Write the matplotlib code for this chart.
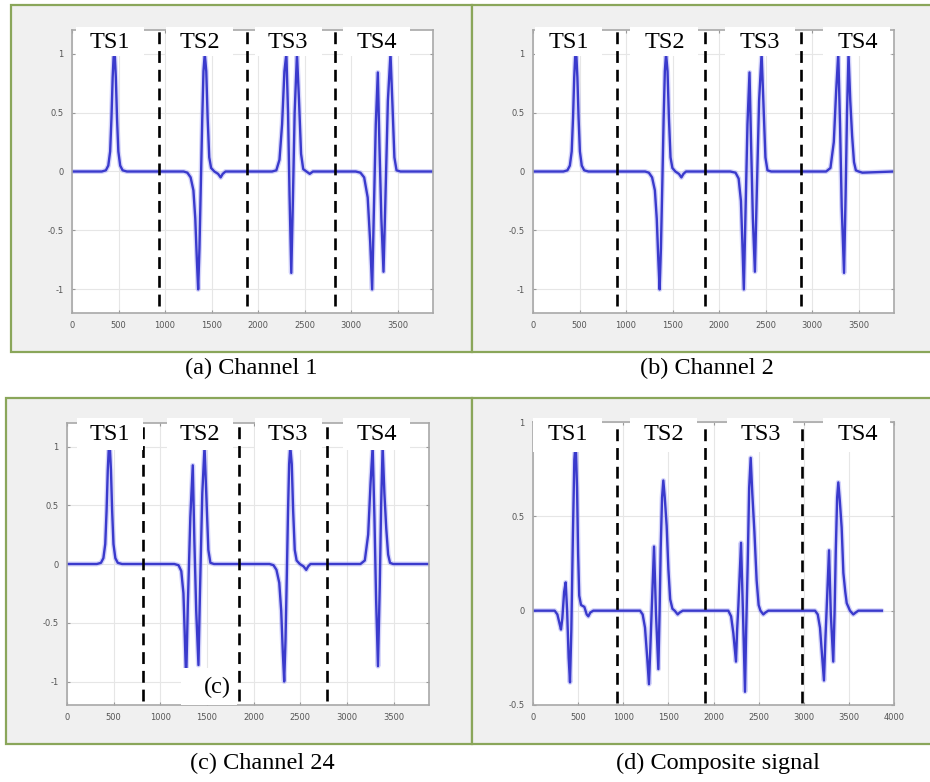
import matplotlib
matplotlib.use('Agg')
import matplotlib.pyplot as plt
from matplotlib.patches import Rectangle

W, H = 930, 782

# channel 1
ch1_x = [0, 320, 364, 390, 410, 424, 437, 447, 454, 461, 471, 484, 498, 518, 544, 590,
         1200, 1240, 1275, 1305, 1325, 1342, 1356, 1370, 1385, 1400, 1413, 1427, 1443, 1458, 1475, 1495, 1530, 1570, 1598, 1620, 1650,
         2150, 2196, 2230, 2258, 2283, 2304, 2322, 2338, 2357, 2374, 2393, 2418, 2440, 2462, 2485, 2520, 2555, 2590,
         3050, 3100, 3140, 3178, 3205, 3226, 3244, 3265, 3287, 3305, 3325, 3348, 3368, 3395, 3423, 3445, 3465, 3488, 3530, 3880]
ch1_y = [0, 0, 0.01, 0.05, 0.17, 0.45, 0.8, 0.97, 1.0, 0.97, 0.8, 0.45, 0.17, 0.05, 0.01, 0,
         0, -0.01, -0.05, -0.16, -0.4, -0.75, -1.0, -0.65, -0.1, 0.45, 0.85, 1.0, 0.85, 0.45, 0.12, 0.03, 0, -0.02, -0.05, -0.02, 0,
         0, 0.01, 0.1, 0.4, 0.85, 1.0, 0.5, -0.2, -0.86, -0.25, 0.5, 1.0, 0.6, 0.15, 0.02, 0, -0.02, 0,
         0, -0.01, -0.05, -0.22, -0.6, -1.0, -0.35, 0.4, 0.84, 0.2, -0.4, -0.85, -0.25, 0.6, 1.0, 0.55, 0.12, 0.01, 0, 0]

# channel 2
ch2_x = [0, 326, 370, 396, 416, 430, 443, 453, 460, 467, 477, 490, 504, 524, 550, 596,
         1205, 1245, 1280, 1310, 1330, 1347, 1361, 1375, 1390, 1404, 1417, 1430, 1446, 1461, 1478, 1498, 1530, 1568, 1595, 1617, 1645,
         2120, 2177, 2210, 2235, 2250, 2266, 2284, 2305, 2327, 2345, 2363, 2385, 2403, 2430, 2457, 2478, 2498, 2520, 2560,
         3150, 3197, 3233, 3258, 3281, 3300, 3318, 3343, 3360, 3375, 3391, 3410, 3430, 3450, 3470, 3500, 3540, 3880]
ch2_y = [0, 0, 0.01, 0.05, 0.17, 0.45, 0.8, 0.97, 1.0, 0.97, 0.8, 0.45, 0.17, 0.05, 0.01, 0,
         0, -0.01, -0.05, -0.16, -0.4, -0.75, -1.0, -0.65, -0.1, 0.45, 0.85, 1.0, 0.85, 0.45, 0.12, 0.03, 0, -0.02, -0.05, -0.02, 0,
         0, -0.01, -0.06, -0.25, -0.6, -1.0, -0.35, 0.4, 0.84, 0.2, -0.4, -0.85, -0.25, 0.6, 1.0, 0.55, 0.12, 0.01, 0,
         0, 0.03, 0.25, 0.68, 1.0, 0.4, -0.3, -0.86, -0.2, 0.5, 1.0, 0.6, 0.3, 0.08, 0.01, 0, -0.01, 0]

# channel 24
ch24_x = [0, 320, 364, 390, 410, 424, 437, 447, 454, 461, 471, 484, 498, 518, 544, 590,
          1150, 1195, 1225, 1248, 1262, 1277, 1295, 1322, 1348, 1365, 1385, 1409, 1425, 1450, 1474, 1495, 1515, 1537, 1575,
          2170, 2213, 2245, 2275, 2296, 2313, 2328, 2342, 2356, 2369, 2381, 2393, 2409, 2424, 2441, 2461, 2495, 2535, 2564, 2585, 2610,
          3145, 3192, 3228, 3253, 3276, 3295, 3313, 3333, 3352, 3367, 3383, 3402, 3422, 3442, 3462, 3495, 3880]
ch24_y = [0, 0, 0.01, 0.05, 0.17, 0.45, 0.8, 0.97, 1.0, 0.97, 0.8, 0.45, 0.17, 0.05, 0.01, 0,
          0, -0.01, -0.06, -0.25, -0.6, -1.0, -0.35, 0.4, 0.84, 0.2, -0.4, -0.86, -0.25, 0.6, 1.0, 0.55, 0.12, 0.01, 0,
          0, -0.01, -0.05, -0.16, -0.4, -0.75, -1.0, -0.65, -0.1, 0.45, 0.85, 1.0, 0.85, 0.45, 0.12, 0.03, 0, -0.02, -0.05, -0.02, 0,
          0, 0.03, 0.25, 0.68, 1.0, 0.4, -0.3, -0.87, -0.2, 0.5, 1.0, 0.6, 0.3, 0.08, 0.01, 0, 0]

# composite signal
comp_x = [0, 240, 270, 295, 310, 325, 345, 362, 378, 395, 410, 425, 442, 458, 473, 488, 500, 512, 532, 569, 595, 613, 635, 668,
          1186, 1215, 1241, 1267, 1285, 1300, 1315, 1341, 1363, 1389, 1403, 1415, 1430, 1444, 1460, 1481, 1500, 1520, 1545, 1570, 1603, 1625, 1660,
          2164, 2195, 2220, 2249, 2262, 2275, 2305, 2327, 2349, 2362, 2379, 2395, 2412, 2430, 2453, 2478, 2500, 2520, 2552, 2575, 2607,
          3125, 3155, 3180, 3205, 3224, 3240, 3253, 3280, 3300, 3327, 3342, 3355, 3370, 3383, 3400, 3420, 3439, 3460, 3476, 3512, 3549, 3575, 3605, 3865]
comp_y = [0, 0, -0.02, -0.07, -0.10, -0.04, 0.1, 0.15, 0.0, -0.25, -0.38, -0.1, 0.4, 0.8, 0.9, 0.65, 0.3, 0.08, 0.03, 0.02, -0.02, -0.03, -0.01, 0,
          0, -0.02, -0.09, -0.26, -0.39, -0.2, 0.0, 0.34, -0.02, -0.31, 0.0, 0.33, 0.6, 0.69, 0.6, 0.45, 0.22, 0.06, 0.01, 0, -0.02, -0.01, 0,
          0, -0.03, -0.12, -0.27, -0.1, 0.02, 0.36, -0.02, -0.43, -0.1, 0.25, 0.65, 0.81, 0.62, 0.42, 0.16, 0.03, 0.0, -0.02, -0.01, 0,
          0, -0.02, -0.09, -0.25, -0.37, -0.15, 0.0, 0.32, -0.02, -0.27, 0.0, 0.32, 0.6, 0.68, 0.58, 0.44, 0.2, 0.1, 0.04, 0.0, -0.02, -0.01, 0, 0]

# boundaries between time slots
dash_a = [933, 1878, 2822]
dash_b = [904, 1851, 2885]
dash_c = [815, 1845, 2790]
dash_d = [931, 1906, 2981]

slot_labels = ['TS1', 'TS2', 'TS3', 'TS4']
captions = ['(a) Channel 1', '(b) Channel 2', '(c) Channel 24', '(d) Composite signal']


def fx(x):
    return x / W


def fy(y):
    return 1 - y / H


def px_rect(x0, y0, x1, y1):
    return [fx(x0), fy(y1), (x1 - x0) / W, (y1 - y0) / H]


fig = plt.figure(figsize=(W / 100, H / 100), dpi=100)
fig.patch.set_facecolor('white')

serif = ['Liberation Serif', 'DejaVu Serif']
green = '#8aa65a'

# gray frames around each panel
for (x0, y0, x1, y1) in [(11, 5, 472, 352), (472, 5, 936, 352), (6, 398, 472, 744), (472, 398, 936, 744)]:
    fig.patches.append(Rectangle((fx(x0), fy(y1)), (x1 - x0) / W, (y1 - y0) / H, transform=fig.transFigure,
                                 facecolor='#f0f0f0', edgecolor=green, lw=1.6, zorder=-5))

panels = [
    dict(rect=(72, 30, 433, 313), x=ch1_x, y=ch1_y, dash=dash_a, xmax=3880, ylim=(-1.2, 1.2),
         yt=[-1, -0.5, 0, 0.5, 1], xt=range(0, 4000, 500), dash_y=(-1.14, 1.2),
         boxes=[(76, 144), (166, 233), (255, 322), (343, 410)], tx=[110, 200, 288, 377], by=(27, 56), ty=42),
    dict(rect=(533, 30, 894, 313), x=ch2_x, y=ch2_y, dash=dash_b, xmax=3880, ylim=(-1.2, 1.2),
         yt=[-1, -0.5, 0, 0.5, 1], xt=range(0, 4000, 500), dash_y=(-1.14, 1.2),
         boxes=[(535, 602), (630, 698), (725, 795), (823, 890)], tx=[569, 665, 760, 858], by=(27, 56), ty=42),
    dict(rect=(67, 423, 429, 705), x=ch24_x, y=ch24_y, dash=dash_c, xmax=3880, ylim=(-1.2, 1.2),
         yt=[-1, -0.5, 0, 0.5, 1], xt=range(0, 4000, 500), dash_y=(-1.17, 1.2),
         boxes=[(77, 143), (167, 233), (255, 322), (343, 410)], tx=[110, 200, 288, 377], by=(418, 450), ty=435),
    dict(rect=(533, 422, 894, 705), x=comp_x, y=comp_y, dash=dash_d, xmax=4000, ylim=(-0.5, 1.0),
         yt=[-0.5, 0, 0.5, 1], xt=range(0, 4500, 500), dash_y=(-0.49, 1.0),
         boxes=[(533, 602), (630, 697), (727, 793), (823, 890)], tx=[568, 664, 761, 858], by=(418, 452), ty=435),
]

for p in panels:
    x0, y0, x1, y1 = p['rect']
    ax = fig.add_axes(px_rect(x0, y0, x1, y1))
    ax.set_facecolor('white')
    # soft halo under the trace, then the trace itself
    ax.plot(p['x'], p['y'], color='#a0a0f4', lw=3.6, alpha=0.45, solid_joinstyle='round', solid_capstyle='round')
    ax.plot(p['x'], p['y'], color='#3a3acc', lw=1.7, solid_joinstyle='round')
    for xd in p['dash']:
        ax.plot([xd, xd], p['dash_y'], color='black', lw=1.9, dashes=(4.5, 2.6), zorder=4)
    ax.set_xlim(0, p['xmax'])
    ax.set_ylim(*p['ylim'])
    ax.set_xticks(list(p['xt']))
    ax.set_yticks(p['yt'])
    ax.set_yticklabels([('%g' % v) for v in p['yt']])
    ax.grid(True, color='#e6e6e6', lw=0.8)
    ax.set_axisbelow(True)
    ax.tick_params(direction='in', length=2.5, width=0.8, color='#999999', labelsize=6,
                   labelcolor='#555555', pad=6, top=True, right=True)
    for s in ax.spines.values():
        s.set_color('#a8a8a8')
        s.set_linewidth(1.2)

    # white label boxes on top of the plot
    for (bx0, bx1), tx, lab in zip(p['boxes'], p['tx'], slot_labels):
        fig.patches.append(Rectangle((fx(bx0), fy(p['by'][1])), (bx1 - bx0) / W, (p['by'][1] - p['by'][0]) / H,
                                     transform=fig.transFigure, facecolor='white', edgecolor='none', zorder=5))
        fig.text(fx(tx), fy(p['ty']), lab, ha='center', va='center', fontsize=17.5, family=serif, zorder=6)

# "(c)" tag inside the channel 24 plot
fig.patches.append(Rectangle((fx(181), fy(705)), (237 - 181) / W, (705 - 668) / H,
                             transform=fig.transFigure, facecolor='white', edgecolor='none', zorder=5))
fig.text(fx(217), fy(687), '(c)', ha='center', va='center', fontsize=17.5, family=serif, zorder=6)

for (cx, cy), cap in zip([(251, 368), (707, 368), (262, 763), (718, 763)], captions):
    fig.text(fx(cx), fy(cy), cap, ha='center', va='center', fontsize=17.5, family=serif)

fig.savefig('out.png', dpi=100)
